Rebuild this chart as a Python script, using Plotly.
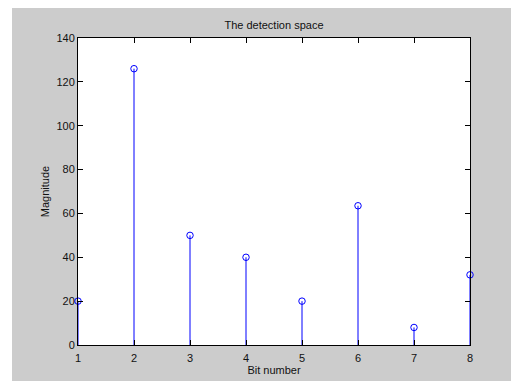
import plotly.graph_objects as go

bits = [1, 2, 3, 4, 5, 6, 7, 8]
magnitude = [20, 126, 50, 40, 20, 63.5, 8, 32]
y_ticks = [0, 20, 40, 60, 80, 100, 120, 140]
title_text = "The detection space"
x_label = "Bit number"
y_label = "Magnitude"

BLUE = "#0000ff"
GRAY = "#cccccc"
FONT = "Liberation Sans, Arial, sans-serif"

stem_x, stem_y = [], []
for b, m in zip(bits, magnitude):
    stem_x += [b, b, None]
    stem_y += [0, m, None]

fig = go.Figure()
fig.add_trace(go.Scatter(x=stem_x, y=stem_y, mode="lines",
                         line=dict(color=BLUE, width=1), hoverinfo="skip",
                         cliponaxis=False, showlegend=False))
fig.add_trace(go.Scatter(x=bits, y=magnitude, mode="markers",
                         marker=dict(symbol="circle-open", size=6.5,
                                     color=BLUE, line=dict(color=BLUE, width=1)),
                         cliponaxis=False, showlegend=False))

W, H = 511, 381
L, R, T, B = 78, 41, 38, 36
pw, ph = W - L - R, H - T - B

def px_to_paper_x(px):
    return (px - L) / pw

def px_to_paper_y(py):
    return (H - B - py) / ph

# white strips on left and top of the gray figure background
fig.add_shape(type="rect", xref="paper", yref="paper",
              x0=px_to_paper_x(-5), x1=px_to_paper_x(12),
              y0=px_to_paper_y(H + 5), y1=px_to_paper_y(-5),
              fillcolor="white", line=dict(width=0), layer="below")
fig.add_shape(type="rect", xref="paper", yref="paper",
              x0=px_to_paper_x(-5), x1=px_to_paper_x(W + 5),
              y0=px_to_paper_y(8), y1=px_to_paper_y(-5),
              fillcolor="white", line=dict(width=0), layer="below")

fig.update_layout(
    width=W, height=H,
    margin=dict(l=L, r=R, t=T, b=B, pad=0, autoexpand=False),
    paper_bgcolor=GRAY, plot_bgcolor="white",
    font=dict(family=FONT, size=11, color="#111111"),
    title=dict(text=title_text, x=px_to_paper_x(274), xref="paper",
               xanchor="center", y=1 - 25 / H, yref="container",
               yanchor="middle", font=dict(size=11, family=FONT, color="#111111")),
    xaxis=dict(range=[1, 8], tickvals=bits, ticks="inside", ticklen=5,
               tickcolor="black", showline=True, linecolor="black",
               linewidth=1, mirror="ticks", showgrid=False, zeroline=False,
               automargin=False, ticklabelstandoff=3,
               title=dict(text=x_label, standoff=2, font=dict(size=11)),
               tickfont=dict(size=11)),
    yaxis=dict(range=[0, 140], tickvals=y_ticks, ticks="inside", ticklen=5,
               tickcolor="black", showline=True, linecolor="black",
               linewidth=1, mirror="ticks", showgrid=False, zeroline=False,
               automargin=False,
               title=dict(text=y_label, standoff=4, font=dict(size=11)),
               tickfont=dict(size=11)),
)

fig.write_html("out.html")
